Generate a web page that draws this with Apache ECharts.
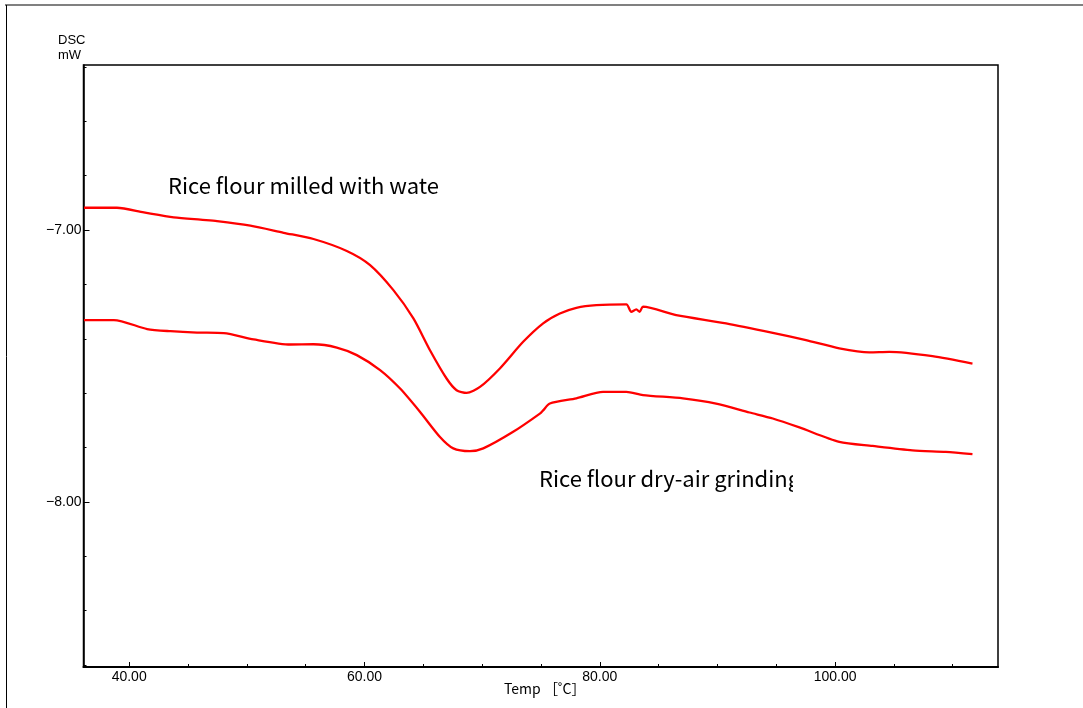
<!DOCTYPE html>
<html>
<head>
<meta charset="utf-8">
<script src="https://cdn.jsdelivr.net/npm/echarts@6/dist/echarts.min.js"></script>
<style>html,body{margin:0;padding:0;background:#fff}#c{width:1083px;height:708px}</style>
</head>
<body>
<div id="c"></div>
<script>
// Temperature (°C) and DSC (mW) readings
const tempWater = [36.16,38.96,41.25,43.79,46.06,47.47,50.30,53.13,55.67,58.50,60.48,62.46,64.16,65.57,66.98,67.83,68.68,69.82,71.51,73.49,75.19,76.61,78.01,79.71,82.26,82.68,83.11,83.39,83.67,86.50,90.74,94.71,97.53,100.36,102.91,104.61,108.28,111.68];
const dscWater  = [-6.918,-6.918,-6.935,-6.953,-6.962,-6.967,-6.984,-7.010,-7.033,-7.077,-7.129,-7.221,-7.325,-7.442,-7.546,-7.589,-7.599,-7.577,-7.509,-7.411,-7.343,-7.307,-7.286,-7.276,-7.273,-7.301,-7.292,-7.301,-7.282,-7.313,-7.343,-7.378,-7.405,-7.435,-7.450,-7.448,-7.464,-7.491];
const tempDry = [36.16,38.70,41.53,43.51,45.77,48.04,50.58,53.70,55.67,57.65,59.35,61.33,63.03,64.73,66.42,67.55,68.97,70.10,72.64,74.91,75.19,75.76,78.01,80.28,82.26,83.67,87.07,89.89,92.73,94.71,96.97,100.36,103.19,106.58,109.41,111.68];
const dscDry  = [-7.331,-7.331,-7.364,-7.372,-7.377,-7.379,-7.402,-7.421,-7.420,-7.432,-7.460,-7.515,-7.583,-7.669,-7.761,-7.803,-7.813,-7.803,-7.742,-7.675,-7.663,-7.638,-7.619,-7.595,-7.595,-7.607,-7.619,-7.638,-7.671,-7.693,-7.726,-7.779,-7.794,-7.810,-7.816,-7.824];
const xMajorTicks = [40,60,80,100];
const xMinorTicks = [40,45,50,55,60,65,70,75,80,85,90,95,100,105,110];
const yMajorTicks = [-7,-8];
const yMinorTicks = [-6.4,-6.6,-6.8,-7.0,-7.2,-7.4,-7.6,-7.8,-8.0,-8.2,-8.4,-8.6];
const labelWater = 'Rice flour milled with wate';
const labelDry = 'Rice flour dry-air grinding';
const yTitle = 'DSC\nmW';
const xTitle = 'Temp ［˚C］';

const X_MIN = 36.12, X_MAX = 113.85, Y_MIN = -8.607, Y_MAX = -6.393;
const zip = (a, b) => a.map((v, i) => [v, b[i]]);
const axisFont = 'Liberation Sans, Arial, sans-serif';
const noteFont = '"Noto Sans CJK JP", sans-serif';

const chart = echarts.init(document.getElementById('c'), null, {renderer: 'canvas'});
const baseX = {type: 'value', min: X_MIN, max: X_MAX, splitLine: {show: false}, position: 'bottom'};
const baseY = {type: 'value', min: Y_MIN, max: Y_MAX, splitLine: {show: false}, position: 'left'};
chart.setOption({
  animation: false,
  backgroundColor: '#fff',
  grid: {left: 83.5, right: 85, top: 65, bottom: 41, show: true, borderColor: '#000', borderWidth: 1.5, backgroundColor: 'transparent'},
  xAxis: [
    Object.assign({}, baseX, {
      axisLine: {show: true, onZero: false, lineStyle: {color: '#000', width: 2}},
      axisTick: {show: true, inside: true, length: 5, customValues: xMajorTicks, lineStyle: {color: '#000', width: 1}},
      axisLabel: {show: true, margin: 3, customValues: xMajorTicks, color: '#000', fontFamily: axisFont, fontSize: 14, formatter: v => v.toFixed(2)}
    }),
    Object.assign({}, baseX, {
      axisLine: {show: false, onZero: false},
      axisTick: {show: true, inside: true, length: 3, customValues: xMinorTicks, lineStyle: {color: '#000', width: 1}},
      axisLabel: {show: false}
    })
  ],
  yAxis: [
    Object.assign({}, baseY, {
      axisLine: {show: true, onZero: false, lineStyle: {color: '#000', width: 1.5}},
      axisTick: {show: true, inside: true, length: 6, customValues: yMajorTicks, lineStyle: {color: '#000', width: 1}},
      axisLabel: {show: true, margin: 2, customValues: yMajorTicks, color: '#000', fontFamily: axisFont, fontSize: 14, formatter: v => '\u2212' + Math.abs(v).toFixed(2)}
    }),
    Object.assign({}, baseY, {
      axisLine: {show: false, onZero: false},
      axisTick: {show: true, inside: true, length: 3, customValues: yMinorTicks, lineStyle: {color: '#000', width: 1}},
      axisLabel: {show: false}
    })
  ],
  series: [
    {type: 'line', name: labelWater, xAxisIndex: 0, yAxisIndex: 0, data: zip(tempWater, dscWater), showSymbol: false, smooth: 0.25, lineStyle: {color: '#ff0000', width: 2.3}},
    {type: 'line', name: labelDry, xAxisIndex: 0, yAxisIndex: 0, data: zip(tempDry, dscDry), showSymbol: false, smooth: 0.25, lineStyle: {color: '#ff0000', width: 2.3}}
  ],
  graphic: [
    {type: 'line', shape: {x1: 5, y1: 5, x2: 1083, y2: 5}, style: {stroke: '#808080', lineWidth: 2}},
    {type: 'line', shape: {x1: 6.5, y1: 5, x2: 6.5, y2: 708}, style: {stroke: '#000', lineWidth: 1}},
    {type: 'text', left: 58, top: 33, style: {text: yTitle, font: '13px ' + axisFont, fill: '#000', lineHeight: 15}},
    {type: 'text', left: 504, top: 682, style: {text: xTitle, font: '14px "Noto Sans CJK JP", sans-serif', fill: '#000'}},
    {type: 'text', style: {x: 168, y: 186, text: labelWater, font: '22px ' + noteFont, fill: '#000', align: 'left', verticalAlign: 'middle'}},
    {type: 'text', style: {x: 539, y: 479, text: labelDry, font: '22px ' + noteFont, fill: '#000', align: 'left', verticalAlign: 'middle'}},
    {type: 'rect', shape: {x: 793, y: 462, width: 40, height: 36}, style: {fill: '#fff'}, z: 100}
  ]
});
</script>
</body>
</html>
